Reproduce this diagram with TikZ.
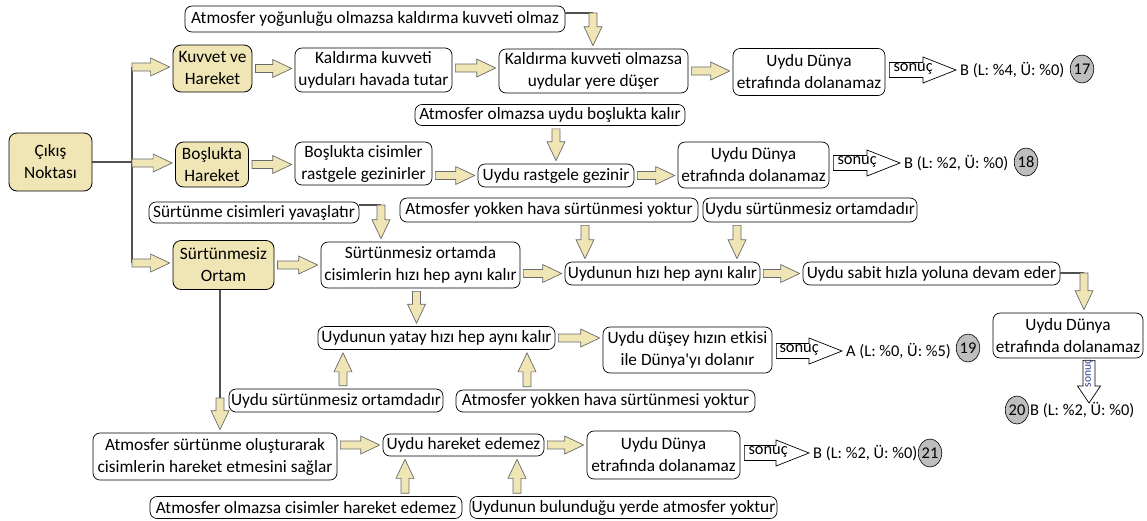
\documentclass[tikz,border=0pt]{standalone}
\usepackage{fontspec}
\setmainfont{Carlito}
\newfontfamily\plainap{Carlito}
\usetikzlibrary{calc,shapes.geometric}

\definecolor{tanfill}{RGB}{240,229,180}
\definecolor{arrowedge}{RGB}{105,105,105}
\definecolor{linkgray}{RGB}{80,80,80}
\definecolor{numfill}{RGB}{190,190,190}
\definecolor{sonucblue}{RGB}{40,60,150}

% block arrow geometry: head length / shaft half width / head half width / start gap / end gap
\newcommand\blkK{19}\newcommand\blkW{4}\newcommand\blkH{9}
\newcommand\blkS{3}\newcommand\blkE{3}

\tikzset{
  every node/.style={font=\fontsize{17.3}{22}\selectfont, inner sep=0pt},
  sz/.style 2 args={minimum width=#1pt, minimum height=#2pt},
  tanbox/.style={draw=black, fill=tanfill, rounded corners=8pt, line width=0.8pt, align=center},
  wbox/.style={draw=black, fill=white, rounded corners=7pt, line width=0.7pt, align=center},
  res/.style={anchor=west, font=\fontsize{16.4}{20}\selectfont},
  numc/.style={ellipse, draw=black, fill=numfill, line width=0.6pt, minimum width=19pt, minimum height=28pt,
    font=\fontsize{16.4}{20}\selectfont},
  sonuclbl/.style={anchor=west, font=\fontsize{16.4}{20}\selectfont},
  link/.style={draw=linkgray, line width=1.2pt},
  arrow dims/.code args={#1/#2/#3/#4/#5}{\def\blkK{#1}\def\blkW{#2}\def\blkH{#3}\def\blkS{#4}\def\blkE{#5}},
  block path/.style={to path={let \p1=(\tikztostart), \p2=(\tikztotarget),
     \n1={veclen(\x2-\x1,\y2-\y1)}, \n2={(\x2-\x1)/\n1}, \n3={(\y2-\y1)/\n1} in
     ({\x1+\blkS*\n2-\blkW*\n3},{\y1+\blkS*\n3+\blkW*\n2})
     -- ({\x1+(\n1-\blkE-\blkK)*\n2-\blkW*\n3},{\y1+(\n1-\blkE-\blkK)*\n3+\blkW*\n2})
     -- ({\x1+(\n1-\blkE-\blkK)*\n2-\blkH*\n3},{\y1+(\n1-\blkE-\blkK)*\n3+\blkH*\n2})
     -- ({\x1+(\n1-\blkE)*\n2},{\y1+(\n1-\blkE)*\n3})
     -- ({\x1+(\n1-\blkE-\blkK)*\n2+\blkH*\n3},{\y1+(\n1-\blkE-\blkK)*\n3-\blkH*\n2})
     -- ({\x1+(\n1-\blkE-\blkK)*\n2+\blkW*\n3},{\y1+(\n1-\blkE-\blkK)*\n3-\blkW*\n2})
     -- ({\x1+\blkS*\n2+\blkW*\n3},{\y1+\blkS*\n3-\blkW*\n2}) -- cycle}},
  barrow/.style={block path, draw=arrowedge, fill=tanfill, line width=0.7pt, arrow dims=19/4/9/3/3},
  trunkarrow/.style={block path, draw=arrowedge, fill=tanfill, line width=0.7pt, arrow dims=19/4/9/0/3},
  sarrow/.style={block path, draw=black, fill=white, line width=0.7pt, arrow dims=33/7.5/13/4/4},
  sarrowv/.style={block path, draw=black, fill=white, line width=0.7pt, arrow dims=17/6/11.5/2/0},
}

\begin{document}
\begin{tikzpicture}[x=1pt, y=-1pt]
\useasboundingbox (0,0) rectangle (1147,520);

% ---- start and the three branches
\node[tanbox, sz={83}{58}] (cikis) at (50.5,162) {Çıkış\\Noktası};
\node[tanbox, sz={79}{47}] (kuvvet) at (212.5,68.5) {Kuvvet ve\\Hareket};
\node[tanbox, sz={73}{45}] (bosluk) at (212,164.5) {Boşlukta\\Hareket};
\node[tanbox, sz={101}{49}] (surt) at (223.5,265) {Sürtünmesiz\\Ortam};

% ---- branch 1: force and motion
\node[wbox, sz={380}{26}] (n1) at (375,19) {Atmosfer yoğunluğu olmazsa kaldırma kuvveti olmaz};
\node[wbox, sz={157}{44}] (kald1) at (373.5,70) {Kaldırma kuvveti\\uyduları havada tutar};
\node[wbox, sz={189}{44}] (kald2) at (593.5,71) {Kaldırma kuvveti olmazsa\\uydular yere düşer};
\node[wbox, sz={152}{47}] (udd1) at (809,72) {Uydu Dünya\\etrafında dolanamaz};
\node[numc] (c17) at (1082,69) {17};
\node[res] (res1) at (960,70) {B (L: \%4, Ü: \%0)};

% ---- branch 2: motion in space
\node[wbox, sz={270}{21}] (atm2) at (550,115) {Atmosfer olmazsa uydu boşlukta kalır};
\node[wbox, sz={137}{43}] (bosc) at (363.5,163.5) {Boşlukta cisimler\\rastgele gezinirler};
\node[wbox, sz={156}{23}] (gez) at (556,175.5) {Uydu rastgele gezinir};
\node[wbox, sz={151}{46}] (udd2) at (753.5,165) {Uydu Dünya\\etrafında dolanamaz};
\node[numc] (c18) at (1026,162) {18};
\node[res] (res2) at (904,163) {B (L: \%2, Ü: \%0)};

% ---- branch 3: frictionless medium
\node[wbox, sz={210}{21}] (suryav) at (254,212.5) {Sürtünme cisimleri yavaşlatır};
\node[wbox, sz={298}{24}] (atmy1) at (549,210) {Atmosfer yokken hava sürtünmesi yoktur};
\node[wbox, sz={214}{24}] (uysur1) at (810,210) {Uydu sürtünmesiz ortamdadır};
\node[wbox, sz={199}{46}] (ortam) at (420.5,265) {Sürtünmesiz ortamda\\cisimlerin hızı hep aynı kalır};
\node[wbox, sz={195}{23}] (hiz) at (662.5,273.5) {Uydunun hızı hep aynı kalır};
\node[wbox, sz={257}{23}] (sabit) at (931.5,273.5) {Uydu sabit hızla yoluna devam eder};
\node[wbox, sz={150}{45}] (udd3) at (1068,335.5) {Uydu Dünya\\etrafında dolanamaz};
\node[numc] (c20) at (1017,410) {20};
\node[res] (res5) at (1030,410) {B (L: \%2, Ü: \%0)};

\node[wbox, sz={237}{23}] (yatay) at (436.5,338) {Uydunun yatay hızı hep aynı kalır};
\node[wbox, sz={169}{46}] (dusey) at (687.5,350) {Uydu düşey hızın etkisi\\ile Dünya{\plainap '}yı dolanır};
\node[numc] (c19) at (968,348) {19};
\node[res] (res3) at (846,351) {A (L: \%0, Ü: \%5)};
\node[wbox, sz={214}{23}] (uysur2) at (336,400.5) {Uydu sürtünmesiz ortamdadır};
\node[wbox, sz={299}{22}] (atmy2) at (605.5,401) {Atmosfer yokken hava sürtünmesi yoktur};

\node[wbox, sz={244}{47}] (atmsurt) at (215,456.5) {Atmosfer sürtünme oluşturarak\\cisimlerin hareket etmesini sağlar};
\node[wbox, sz={161}{22}] (hareket) at (463.5,445) {Uydu hareket edemez};
\node[wbox, sz={153}{48}] (udd4) at (663.5,455) {Uydu Dünya\\etrafında dolanamaz};
\node[numc] (c21) at (930,453) {21};
\node[res] (res4) at (813,453) {B (L: \%2, Ü: \%0)};
\node[wbox, sz={312}{22}] (atmolm) at (306,507.5) {Atmosfer olmazsa cisimler hareket edemez};
\node[wbox, sz={307}{22}] (uybul) at (623.5,507.5) {Uydunun bulunduğu yerde atmosfer yoktur};

% ---- trunk from the start node
\coordinate (t1) at (132,67);
\coordinate (t2) at (132,163);
\coordinate (t3) at (132,263);
\draw[link] (cikis.east) -- (cikis.east -| t2);
\draw[link] (t1) -- (t3);
\draw[trunkarrow] (t1) to (t1 -| kuvvet.west);
\draw[trunkarrow] (t2) to (t2 -| bosluk.west);
\draw[trunkarrow] (t3) to (t3 -| surt.west);

% ---- elbow connectors
\coordinate (j1) at (593,13);
\draw[link] (j1 -| n1.east) -- (j1);
\draw[trunkarrow] (j1) to (j1 |- kald2.north);

\coordinate (j2) at (381,205);
\draw[link] (j2 -| suryav.east) -- (j2);
\draw[trunkarrow] (j2) to (j2 |- ortam.north);

\coordinate (j3) at (1084,273);
\draw[link] (j3 -| sabit.east) -- (j3);
\draw[trunkarrow] (j3) to (j3 |- udd3.north);

\coordinate (j4) at (220,398);
\draw[link] (j4 |- surt.south) -- (j4);
\draw[trunkarrow] (j4) to (j4 |- atmsurt.north);

% ---- horizontal block arrows
\draw[barrow] (kuvvet.east) to (kuvvet.east -| kald1.west);
\draw[barrow] (kald1.east |- 0,68) to (kald2.west |- 0,68);
\draw[barrow] (kald2.east) to (kald2.east -| udd1.west);
\draw[barrow] (bosluk.east) to (bosluk.east -| bosc.west);
\draw[barrow] (bosc.east |- gez.west) to (gez.west);
\draw[barrow] (gez.east) to (gez.east -| udd2.west);
\draw[barrow] (surt.east) to (surt.east -| ortam.west);
\draw[barrow] (ortam.east |- hiz.west) to (hiz.west);
\draw[barrow] (hiz.east) to (hiz.east -| sabit.west);
\draw[barrow] (yatay.east) to (yatay.east -| dusey.west);
\draw[barrow] (atmsurt.east |- hareket.west) to (hareket.west);
\draw[barrow] (hareket.east) to (hareket.east -| udd4.west);

% ---- vertical block arrows
\coordinate (v1) at ([xshift=6pt]atm2.south);
\draw[barrow] (v1) to (v1 |- gez.north);
\coordinate (v2) at ([xshift=36pt]atmy1.south);
\draw[barrow] (v2) to (v2 |- hiz.north);
\coordinate (v3) at ([xshift=-73pt]uysur1.south);
\draw[barrow] (v3) to (v3 |- hiz.north);
\coordinate (v4) at ([xshift=-4pt]ortam.south);
\draw[barrow] (v4) to (v4 |- yatay.north);
\coordinate (v5) at ([xshift=7pt]uysur2.north);
\draw[barrow] (v5) to (v5 |- yatay.south);
\coordinate (v6) at ([xshift=-78.5pt]atmy2.north);
\draw[barrow] (v6) to (v6 |- yatay.south);
\coordinate (v7) at ([xshift=99pt]atmolm.north);
\draw[barrow] (v7) to (v7 |- hareket.south);
\coordinate (v8) at ([xshift=-106.5pt]uybul.north);
\draw[barrow] (v8) to (v8 |- hareket.south);

% ---- result arrows
\draw[sarrow] (udd1.east |- res1.west) to (res1.west);
\node[sonuclbl] at ($(udd1.east |- res1.west)+(8,-1)$) {sonuç};
\draw[sarrow] (udd2.east |- res2.west) to (res2.west);
\node[sonuclbl] at ($(udd2.east |- res2.west)+(8,-1)$) {sonuç};
\draw[sarrow] (dusey.east |- res3.west) to (res3.west);
\node[sonuclbl] at ($(dusey.east |- res3.west)+(7,-1)$) {sonuç};
\draw[sarrow] (udd4.east |- res4.west) to (res4.west);
\node[sonuclbl] at ($(udd4.east |- res4.west)+(8,-1)$) {sonuç};
\coordinate (s5) at (1089,403);
\draw[sarrowv] (udd3.south -| s5) to (s5);
\node[font=\fontsize{11.5}{13}\selectfont, text=sonucblue, rotate=90] at ($(udd3.south -| s5)+(0,15)$) {sonuç};
\end{tikzpicture}
\end{document}
